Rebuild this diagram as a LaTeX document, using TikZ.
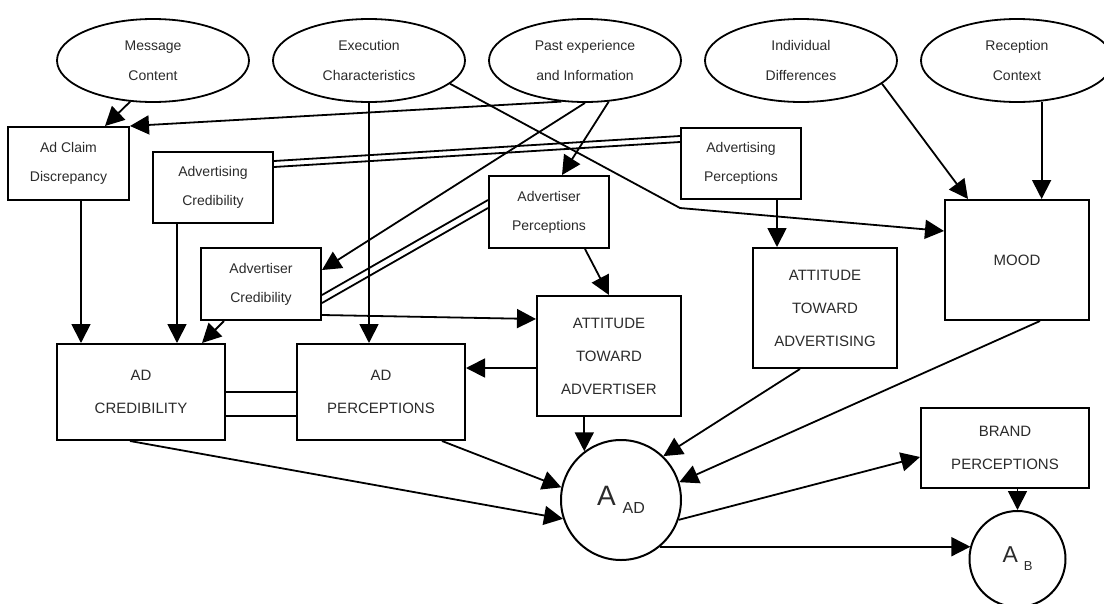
\documentclass[tikz,border=0pt]{standalone}
\usepackage{fontspec}
\setmainfont{Liberation Sans}
\usetikzlibrary{shapes.geometric,arrows.meta,calc}
\definecolor{txt}{HTML}{2B2B2B}
\tikzset{
  ell/.style={draw, ellipse, line width=1.8pt, minimum width=192pt, minimum height=83pt, inner sep=0pt, align=center, text=txt, font=\fontsize{14}{30}\selectfont},
  sbox/.style={draw, rectangle, line width=2pt, inner sep=0pt, align=center, text=txt, font=\fontsize{14}{29}\selectfont},
  bbox/.style={draw, rectangle, line width=2pt, inner sep=0pt, align=center, text=txt, font=\fontsize{15}{33}\selectfont},
  circ/.style={draw, circle, line width=2pt, inner sep=0pt, text=txt},
  arr/.style={line width=1.8pt, -{Triangle[length=19pt,width=19pt]}},
  ln/.style={line width=1.8pt},
}
\begin{document}
\begin{tikzpicture}[x=1pt,y=-1pt]
\fill[white] (0,0) rectangle (1104,603);
\clip (0,0) rectangle (1104,603);
% ellipses
\node[ell] (msg) at (153,60.5) {Message\\Content};
\node[ell] (exe) at (369,60.5) {Execution\\Characteristics};
\node[ell] (past) at (585,60.5) {Past experience\\and Information};
\node[ell] (indiv) at (801,60.5) {Individual\\Differences};
\node[ell] (recep) at (1017,60.5) {Reception\\Context};
% boxes
\node[sbox, minimum width=121pt, minimum height=73pt] (adclaim) at (68.5,163.5) {Ad Claim\\Discrepancy};
\node[sbox, minimum width=120pt, minimum height=71pt] (advcred) at (213,187.5) {Advertising\\Credibility};
\node[sbox, minimum width=120pt, minimum height=71pt] (advperc) at (741,163.5) {Advertising\\Perceptions};
\node[sbox, minimum width=120pt, minimum height=72pt] (aperc) at (549,212) {Advertiser\\Perceptions};
\node[sbox, minimum width=120pt, minimum height=72pt] (acred) at (261,284) {Advertiser\\Credibility};
\node[bbox, minimum width=168pt, minimum height=96pt] (adcred) at (141,392) {AD\\CREDIBILITY};
\node[bbox, minimum width=168pt, minimum height=96pt] (adperc) at (381,392) {AD\\PERCEPTIONS};
\node[bbox, minimum width=144pt, minimum height=120pt] (attadv) at (609,356) {ATTITUDE\\TOWARD\\ADVERTISER};
\node[bbox, minimum width=144pt, minimum height=120pt] (attadg) at (825,308) {ATTITUDE\\TOWARD\\ADVERTISING};
\node[bbox, minimum width=144pt, minimum height=120pt] (mood) at (1017,260) {MOOD};
\node[bbox, minimum width=168pt, minimum height=80pt] (brand) at (1005,448) {BRAND\\PERCEPTIONS};
\node[circ, minimum size=120pt] (aad) at (621,500) {{\fontsize{28}{28}\selectfont A}\hspace{7pt}{\fontsize{16}{16}\selectfont\raisebox{-8pt}{AD}}};
\node[circ, minimum size=96pt] (ab) at (1017.5,559) {{\fontsize{23}{23}\selectfont A}\hspace{6pt}{\fontsize{13}{13}\selectfont\raisebox{-8pt}{B}}};
% connectors
\draw[arr] (msg.-119) -- ([xshift=36.5pt]adclaim.north);
\draw[arr] (past.-120.5) -- (adclaim.north east);
\draw[arr] (past.south) -- ([yshift=14pt]acred.east);
\draw[arr] (past.-60) -- ([xshift=13pt]aperc.north);
\draw[arr] (exe.south) -- (exe.south |- adperc.north);
\coordinate (bend) at (680,208);
\draw[arr] (exe.-16) -- (bend) -- ([yshift=29pt]mood.west);
\draw[ln] ([yshift=27.5pt]advperc.west) -- ([yshift=26.5pt]advcred.east);
\draw[ln] ([yshift=21.5pt]advperc.west) -- ([yshift=20.5pt]advcred.east);
\draw[ln] ([yshift=12pt]aperc.west) -- ([yshift=-11pt]acred.east);
\draw[ln] ([yshift=4pt]aperc.west) -- ([yshift=-19pt]acred.east);
\draw[arr] ([xshift=36pt]advperc.south) -- ([xshift=36pt]advperc.south |- attadg.north);
\draw[arr] (indiv.-16.5) -- ([xshift=-49pt]mood.north);
\draw[arr] (recep.-59) -- (recep.-59 |- mood.north);
\draw[arr] ([xshift=12.5pt]adclaim.south) -- ([xshift=12.5pt]adclaim.south |- adcred.north);
\draw[arr] ([xshift=-36pt]advcred.south) -- ([xshift=-36pt]advcred.south |- adcred.north);
\draw[arr] ([xshift=-37pt]acred.south) -- ([xshift=61pt]adcred.north);
\draw[arr] ([yshift=-31pt]acred.east) -- ([yshift=37pt]attadv.west);
\draw[arr] ([xshift=36pt]aperc.south) -- (attadv.north);
\draw[arr] ([yshift=-12pt]attadv.west) -- ([yshift=-12pt]attadv.west -| adperc.east);
\draw[ln] (adcred.east) -- (adperc.west);
\draw[ln] ([yshift=-24pt]adcred.east) -- ([yshift=-24pt]adperc.west);
\draw[arr] (aad.127 |- attadv.south) -- (aad.127);
\draw[arr] ([xshift=-25pt]attadg.south) -- (aad.46);
\draw[arr] ([xshift=23pt]mood.south) -- (aad.17);
\draw[arr] ([xshift=61pt]adperc.south) -- (aad.168);
\draw[arr] ([xshift=-11pt]adcred.south) -- (aad.198);
\draw[arr] (aad.-19) -- ([yshift=-9pt]brand.west);
\draw[arr] (aad.-50) -- (aad.-50 -| ab.164);
\draw[arr] (ab.north |- brand.south) -- (ab.north);
\end{tikzpicture}
\end{document}
